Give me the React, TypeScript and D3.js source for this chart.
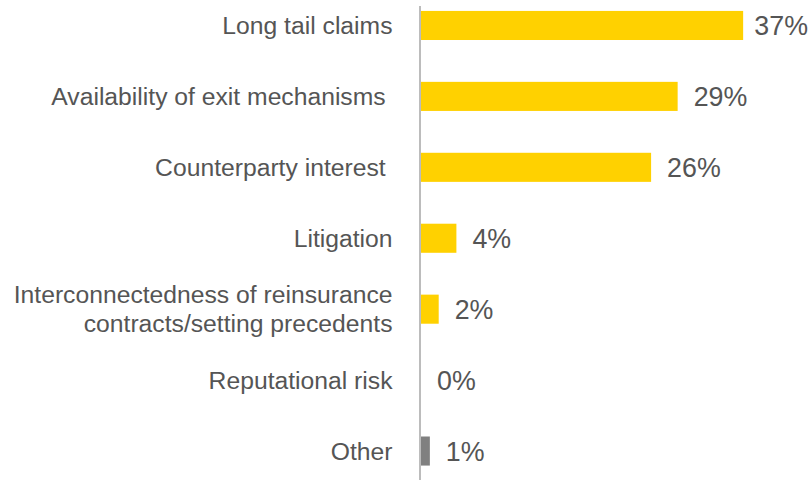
import React, { useEffect, useRef } from "react";
import * as d3 from "d3";

// categories, top to bottom (second line for wrapped label)
const categories = [
  ["Long tail claims"],
  ["Availability of exit mechanisms "],
  ["Counterparty interest "],
  ["Litigation"],
  ["Interconnectedness of reinsurance", "contracts/setting precedents"],
  ["Reputational risk"],
  ["Other"],
];
// bar lengths (%)
const values = [36.4, 29.0, 26.0, 4.0, 2.0, 0, 1.0];
// printed labels
const valueLabels = ["37%", "29%", "26%", "4%", "2%", "0%", "1%"];
const barColors = ["#FFD100", "#FFD100", "#FFD100", "#FFD100", "#FFD100", "#FFD100", "#808080"];

const App = () => {
  const ref = useRef(null);

  useEffect(() => {
    const width = 810;
    const height = 480;
    const axisX = 420;
    const font = "'Liberation Sans', Arial, sans-serif";
    const textColor = "#555555";

    const svg = d3.select(ref.current);
    svg.selectAll("*").remove();
    svg
      .attr("viewBox", [0, 0, width, height])
      .attr("width", width)
      .attr("height", height);

    const idx = d3.range(categories.length);

    const y = d3
      .scaleBand()
      .domain(idx)
      .range([-10, 486.5])
      .paddingInner(0.59)
      .paddingOuter(0.295);

    const x = d3.scaleLinear().domain([0, 10]).range([axisX + 1, axisX + 89.5]);

    // bars
    svg
      .append("g")
      .selectAll("rect")
      .data(idx)
      .join("rect")
      .attr("x", x(0))
      .attr("y", (i) => y(i))
      .attr("width", (i) => x(values[i]) - x(0))
      .attr("height", y.bandwidth())
      .attr("fill", (i) => barColors[i]);

    // vertical axis line
    svg
      .append("line")
      .attr("x1", axisX)
      .attr("x2", axisX)
      .attr("y1", 6)
      .attr("y2", height)
      .attr("stroke", "#a6a6a6")
      .attr("stroke-width", 1.5);

    // value labels (pulled in if they would run past the edge)
    svg
      .append("g")
      .selectAll("text")
      .data(idx)
      .join("text")
      .attr("y", (i) => y(i) + y.bandwidth() / 2 + 9.5)
      .attr("font-family", font)
      .attr("font-size", 26.8)
      .attr("fill", textColor)
      .text((i) => valueLabels[i])
      .attr("x", function (i) {
        const w = this.getComputedTextLength();
        return Math.min(x(values[i]) + 16, width - w - 2);
      });

    // category labels
    const cat = svg
      .append("g")
      .selectAll("text")
      .data(idx)
      .join("text")
      .attr("text-anchor", "end")
      .attr("xml:space", "preserve")
      .style("white-space", "pre")
      .attr("font-family", font)
      .attr("font-size", 24.7)
      .attr("fill", textColor);

    cat
      .selectAll("tspan")
      .data((i) =>
        categories[i].map((line, k) => ({
          line,
          yy:
            y(i) +
            y.bandwidth() / 2 +
            8.5 -
            ((categories[i].length - 1) * 29.4) / 2 +
            k * 29.4,
        }))
      )
      .join("tspan")
      .attr("x", 392.5)
      .attr("y", (d) => d.yy)
      .text((d) => d.line);
  }, []);

  return (
    <div style={{ position: "absolute", left: 0, top: 0 }}>
      <svg ref={ref}></svg>
    </div>
  );
};

export default App;
